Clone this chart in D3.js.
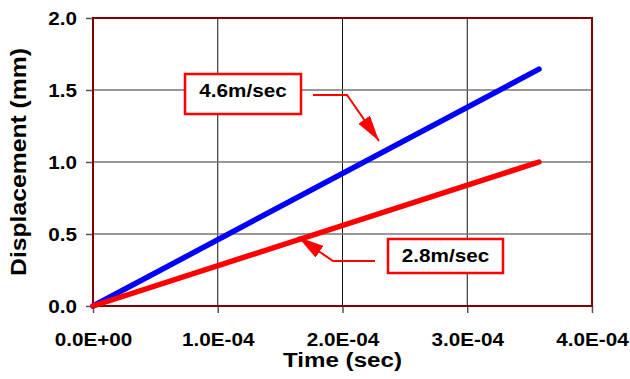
<!DOCTYPE html>
<html>
<head>
<meta charset="utf-8">
<script src="https://cdn.jsdelivr.net/npm/d3@7"></script>
<style>
  html, body { margin: 0; padding: 0; background: #fff; }
  svg { display: block; font-family: "Liberation Sans", Arial, sans-serif; }
</style>
</head>
<body>
<svg id="chart" width="630" height="379"></svg>
<script>
// Time samples (s) and displacement (mm) for each impact velocity
const timeSec = [0, 3.575e-4];
const disp46 = [0, 1.645];
const disp28 = [0, 1.0];

const xTicks = [0, 1e-4, 2e-4, 3e-4, 4e-4];
const xTickLabels = ["0.0E+00", "1.0E-04", "2.0E-04", "3.0E-04", "4.0E-04"];
const yTicks = [0, 0.5, 1.0, 1.5, 2.0];
const yTickLabels = ["0.0", "0.5", "1.0", "1.5", "2.0"];

const seriesNames = ["4.6m/sec", "2.8m/sec"];
const seriesColors = ["#0000ff", "#ff0000"];

// the lettering is set slightly wide
const SX = 1.15;

const svg = d3.select("#chart");
const margin = { left: 93, right: 38, top: 18, bottom: 73 };
const W = 630, H = 379;

const x = d3.scaleLinear().domain([0, 4e-4]).range([margin.left, W - margin.right]);
const y = d3.scaleLinear().domain([0, 2]).range([H - margin.bottom, margin.top]);

// gridlines
const grid = svg.append("g");
grid.selectAll("line.vx").data(xTicks.slice(1, -1)).join("line")
  .attr("x1", d => x(d)).attr("x2", d => x(d))
  .attr("y1", y(0)).attr("y2", y(2))
  .attr("stroke", "#111").attr("stroke-width", 1);
grid.selectAll("line.hy").data(yTicks.slice(1, -1)).join("line")
  .attr("x1", x(0)).attr("x2", x(4e-4))
  .attr("y1", d => y(d)).attr("y2", d => y(d))
  .attr("stroke", "#777").attr("stroke-width", 1.5);

// axes
const xAxis = d3.axisBottom(x).tickValues(xTicks)
  .tickFormat((d, i) => xTickLabels[i]).tickSize(7);
const yAxis = d3.axisLeft(y).tickValues(yTicks)
  .tickFormat((d, i) => yTickLabels[i]).tickSize(7);

const gx = svg.append("g").attr("transform", `translate(0,${y(0)})`).call(xAxis);
const gy = svg.append("g").attr("transform", `translate(${x(0)},0)`).call(yAxis);
[gx, gy].forEach(g => {
  g.select(".domain").remove();
  g.selectAll(".tick line").attr("stroke", "#555").attr("stroke-width", 1.5);
  g.selectAll(".tick text").attr("fill", "#000")
    .style("font-size", "18px").style("font-weight", "bold");
});
gx.selectAll(".tick text")
  .attr("y", 40).attr("dy", "0")
  .attr("transform", `scale(${SX},1)`);
gy.selectAll(".tick text")
  .attr("x", -16 / SX).attr("dy", "0.36em")
  .attr("transform", `scale(${SX},1)`);

// plot frame
svg.append("rect")
  .attr("x", x(0)).attr("y", y(2))
  .attr("width", x(4e-4) - x(0)).attr("height", y(0) - y(2))
  .attr("fill", "none").attr("stroke", "#800000").attr("stroke-width", 2);

// data lines
const line = d3.line().x(d => x(d[0])).y(d => y(d[1]));
const series = [disp46, disp28];
series.forEach((vals, i) => {
  svg.append("path")
    .datum(timeSec.map((t, j) => [t, vals[j]]))
    .attr("d", line)
    .attr("fill", "none")
    .attr("stroke", seriesColors[i])
    .attr("stroke-width", 5.5)
    .attr("stroke-linecap", "round");
});

// axis titles
const xMid = (x(0) + x(4e-4)) / 2;
svg.append("text")
  .attr("transform", `translate(${xMid},367) scale(${SX},1)`)
  .attr("text-anchor", "middle")
  .style("font-size", "21px").style("font-weight", "bold")
  .text("Time (sec)");
svg.append("text")
  .attr("transform", `translate(26,${(y(0) + y(2)) / 2}) rotate(-90) scale(${SX},1)`)
  .attr("text-anchor", "middle")
  .style("font-size", "21.5px").style("font-weight", "bold")
  .text("Displacement (mm)");

// callouts
const defs = svg.append("defs");
defs.append("marker")
  .attr("id", "arrow")
  .attr("viewBox", "0 0 26 14")
  .attr("refX", 26).attr("refY", 7)
  .attr("markerWidth", 26).attr("markerHeight", 14)
  .attr("markerUnits", "userSpaceOnUse")
  .attr("orient", "auto")
  .append("path").attr("d", "M0,0 L26,7 L0,14 Z").attr("fill", "#ff0000");

const callouts = [
  { label: seriesNames[0], box: [185, 74, 116, 40], path: [[313, 95], [347, 95], [379, 141]] },
  { label: seriesNames[1], box: [388, 239, 115, 34], path: [[375, 261], [333, 261], [298, 237]] }
];
callouts.forEach(c => {
  svg.append("rect")
    .attr("x", c.box[0]).attr("y", c.box[1])
    .attr("width", c.box[2]).attr("height", c.box[3])
    .attr("fill", "#fff").attr("stroke", "#ff0000").attr("stroke-width", 2.5);
  svg.append("text")
    .attr("transform", `translate(${c.box[0] + c.box[2] / 2},${c.box[1] + 22.7}) scale(${SX},1)`)
    .attr("text-anchor", "middle")
    .style("font-size", "18px").style("font-weight", "bold")
    .text(c.label);
  svg.append("path")
    .attr("d", d3.line()(c.path))
    .attr("fill", "none").attr("stroke", "#ff0000").attr("stroke-width", 2)
    .attr("marker-end", "url(#arrow)");
});
</script>
</body>
</html>
